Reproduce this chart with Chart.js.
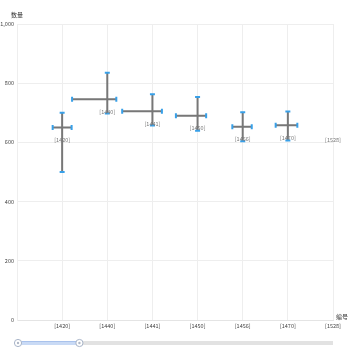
<!DOCTYPE html>
<html>
<head>
<meta charset="utf-8">
<script src="https://cdn.jsdelivr.net/npm/chart.js@4.4.0/dist/chart.umd.min.js"></script>
<style>
  html, body { margin: 0; padding: 0; background: #fff; }
</style>
</head>
<body>
<canvas id="errorChart" width="350" height="350"></canvas>
<script>
// chart data
const categories = ['[1420]', '[1440]', '[1441]', '[1450]', '[1456]', '[1470]', '[1528]'];
const centerValues = [650, 746, 705, 690, 653, 658, 650];
const lowValues = [500, 698, 657, 639, 604, 606, null];
const highValues = [700, 835, 763, 753, 702, 704, null];
// horizontal spread, in category steps
const leftSpread = [0.21, 0.78, 0.67, 0.48, 0.23, 0.27, null];
const rightSpread = [0.21, 0.2, 0.21, 0.19, 0.2, 0.21, null];
const yTicks = [0, 200, 400, 600, 800, 1000];
const zoomRange = [0, 19.5]; // percent shown by the slider
const yAxisName = '数量';
const xAxisName = '编号';

const FONT = "'Noto Sans CJK SC', 'Noto Sans', sans-serif";

const errorBarPlugin = {
    id: 'errorBars',
    afterDatasetsDraw(chart) {
        const ctx = chart.ctx;
        const x = chart.scales.x;
        const y = chart.scales.y;
        ctx.save();
        categories.forEach(function (cat, i) {
            const pos = i + 1;
            const cx = x.getPixelForValue(pos);
            const cy = y.getPixelForValue(centerValues[i]);
            if (lowValues[i] !== null) {
                const yTop = y.getPixelForValue(highValues[i]);
                const yBot = y.getPixelForValue(lowValues[i]);
                const xL = x.getPixelForValue(pos - leftSpread[i]);
                const xR = x.getPixelForValue(pos + rightSpread[i]);

                // gray cross
                ctx.strokeStyle = '#777777';
                ctx.lineWidth = 2;
                ctx.beginPath();
                ctx.moveTo(cx, yTop);
                ctx.lineTo(cx, yBot);
                ctx.moveTo(xL, cy);
                ctx.lineTo(xR, cy);
                ctx.stroke();

                // blue caps
                ctx.strokeStyle = '#38a0e8';
                ctx.lineWidth = 2;
                ctx.beginPath();
                ctx.moveTo(cx - 2.5, yTop);
                ctx.lineTo(cx + 2.5, yTop);
                ctx.moveTo(cx - 2.5, yBot);
                ctx.lineTo(cx + 2.5, yBot);
                ctx.moveTo(xL, cy - 2.5);
                ctx.lineTo(xL, cy + 2.5);
                ctx.moveTo(xR, cy - 2.5);
                ctx.lineTo(xR, cy + 2.5);
                ctx.stroke();
            }
            ctx.fillStyle = '#777';
            ctx.font = '5.5px ' + FONT;
            ctx.textAlign = 'center';
            ctx.textBaseline = 'middle';
            ctx.fillText(cat, cx, cy + 12.5);
        });
        ctx.restore();
    },
    afterDraw(chart) {
        const ctx = chart.ctx;
        const area = chart.chartArea;
        ctx.save();

        // axis names
        ctx.fillStyle = '#333';
        ctx.font = '6px ' + FONT;
        ctx.textBaseline = 'middle';
        ctx.textAlign = 'center';
        ctx.fillText(yAxisName, area.left, 15);
        ctx.textAlign = 'left';
        ctx.fillText(xAxisName, area.right + 3, area.bottom - 3);

        // data zoom slider
        const trackY = 343;
        const x0 = area.left + 1;
        const x1 = area.right;
        ctx.fillStyle = '#e2e2e2';
        ctx.fillRect(x0, trackY - 2, x1 - x0, 4);
        const s = x0 + (x1 - x0) * zoomRange[0] / 100;
        const e = x0 + (x1 - x0) * zoomRange[1] / 100;
        ctx.fillStyle = '#c9daf5';
        ctx.fillRect(s, trackY - 2, e - s, 4);
        ctx.fillStyle = '#a9c2ec';
        ctx.fillRect(s, trackY - 2, e - s, 1);
        [s, e].forEach(function (hx) {
            ctx.beginPath();
            ctx.arc(hx, trackY, 3.6, 0, Math.PI * 2);
            ctx.fillStyle = '#fff';
            ctx.fill();
            ctx.strokeStyle = '#a8b4c8';
            ctx.lineWidth = 1;
            ctx.stroke();
            ctx.beginPath();
            ctx.arc(hx, trackY, 1.2, 0, Math.PI * 2);
            ctx.fillStyle = '#b0b8c6';
            ctx.fill();
        });
        ctx.restore();
    }
};

const ctx = document.getElementById('errorChart').getContext('2d');
new Chart(ctx, {
    type: 'scatter',
    data: {
        datasets: [{
            data: centerValues.map(function (v, i) { return { x: i + 1, y: v }; }),
            pointRadius: 0,
            showLine: false
        }]
    },
    options: {
        responsive: false,
        animation: false,
        layout: {
            padding: { top: 24, right: 17, bottom: 20, left: 0 }
        },
        plugins: {
            legend: { display: false },
            tooltip: { enabled: false }
        },
        scales: {
            x: {
                type: 'linear',
                min: 0,
                max: categories.length,
                afterFit: function (scale) { scale.height = 10; },
                grid: { color: '#eeeeee', drawTicks: false },
                border: { color: '#e4e4e4' },
                ticks: {
                    stepSize: 1,
                    padding: 2.5,
                    color: '#444',
                    font: { family: FONT, size: 5.5 },
                    callback: function (v) { return v >= 1 ? categories[v - 1] : ''; }
                }
            },
            y: {
                min: 0,
                max: 1000,
                afterFit: function (scale) { scale.width = 17; },
                afterBuildTicks: function (scale) {
                    scale.ticks = yTicks.map(function (v) { return { value: v }; });
                },
                grid: { color: '#eeeeee', drawTicks: false },
                border: { color: '#eeeeee' },
                ticks: {
                    padding: 3,
                    color: '#444',
                    font: { family: FONT, size: 5.5 },
                    callback: function (v) { return v.toLocaleString('en-US'); }
                }
            }
        }
    },
    plugins: [errorBarPlugin]
});
</script>
</body>
</html>
